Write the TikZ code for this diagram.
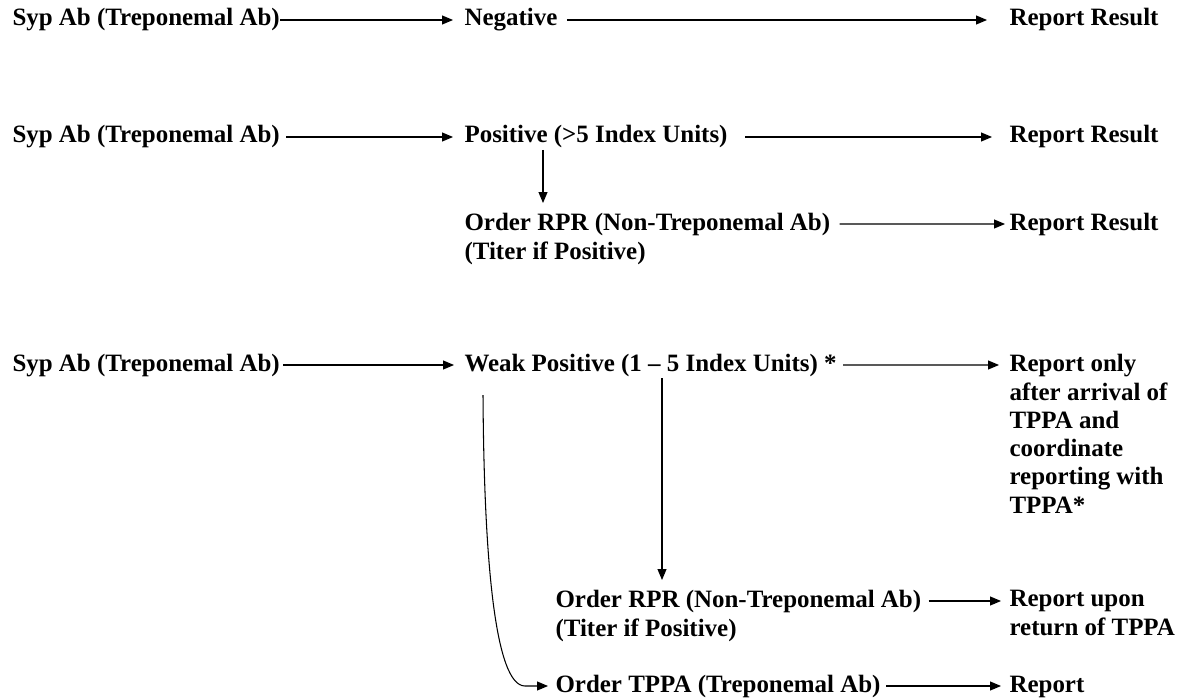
\documentclass[tikz,border=0pt]{standalone}
\usepackage{fontspec}
\setmainfont{Liberation Serif}
\usepackage{tikz}
\usetikzlibrary{arrows.meta}
\usetikzlibrary{positioning}

\begin{document}
\begin{tikzpicture}[
    x = 0.02cm, y = -0.02cm,
    >={Triangle[length=0.22cm,width=0.18cm]},
    line width = 0.6pt]
    \useasboundingbox (0,0) rectangle (1185,699);
    \tikzstyle{every node}=[inner sep=0,font=\bfseries\fontsize{14.2pt}{16.1pt}\selectfont]
    \tikzstyle{block}=[anchor=north west,align=left]
    % negative
    \node[anchor=base west] (syp1) at (12,26) {Syp Ab (Treponemal Ab)} ;
    \node[anchor=base west] (neg) at (464,26) {Negative} ;
    \node[anchor=base west] (res1) at (1009,26) {Report Result} ;
    % positive
    \node[anchor=base west] (syp2) at (12,143) {Syp Ab (Treponemal Ab)} ;
    \node[anchor=base west] (pos) at (464,143) {Positive (>5 Index Units)} ;
    \node[anchor=base west] (res2) at (1009,143) {Report Result} ;
    \node[block] (rpr1) at (464,213) {Order RPR (Non-Treponemal Ab)\\(Titer if Positive)} ;
    \node[anchor=base west] (res3) at (1009,230) {Report Result} ;
    % weak positive
    \node[anchor=base west] (syp3) at (12,371) {Syp Ab (Treponemal Ab)} ;
    \node[anchor=base west] (weak) at (464,371) {Weak Positive (1 -- 5 Index Units) *} ;
    \node[block] (res4) at (1009,354) {Report only\\after arrival of\\TPPA and\\coordinate\\reporting with\\TPPA*} ;
    \node[block] (rpr2) at (555,590) {Order RPR (Non-Treponemal Ab)\\(Titer if Positive)} ;
    \node[block] (res5) at (1009,590) {Report upon\\return of TPPA} ;
    \node[anchor=base west] (tppa) at (555,692) {Order TPPA (Treponemal Ab)} ;
    \node[anchor=base west] (res6) at (1009,692) {Report} ;
    \coordinate (posdown) at ([shift={(79,7)}]pos.base west) ;
    \coordinate (weakdown) at ([shift={(198,7)}]weak.base west) ;
    \coordinate (weakbend) at ([shift={(19,24)}]weak.base west) ;
    \coordinate (tppacorner) at ([shift={(-30,-6)}]tppa.base west) ;
    \path[->]
    ([yshift=0.12cm]syp1.base east) edge [shorten >=0.22cm] ([yshift=0.12cm]neg.base west)
    ([yshift=0.12cm]neg.base east) edge [shorten <=0.18cm,shorten >=0.44cm] ([yshift=0.12cm]res1.base west)
    ([yshift=0.12cm]syp2.base east) edge [shorten <=0.12cm,shorten >=0.22cm] ([yshift=0.12cm]pos.base west)
    ([yshift=0.12cm]pos.base east) edge [shorten <=0.34cm,shorten >=0.34cm] ([yshift=0.12cm]res2.base west)
    (posdown) edge [shorten >=0.2cm] (posdown |- rpr1.north)
    ([yshift=-0.22cm]rpr1.north east) edge [shorten <=0.18cm,shorten >=0.08cm] ([yshift=0.12cm]res3.base west)
    ([yshift=0.12cm]syp3.base east) edge [shorten <=0.06cm,shorten >=0.2cm] ([yshift=0.12cm]weak.base west)
    ([yshift=0.12cm]weak.base east) edge [shorten <=0.12cm,shorten >=0.2cm] ([yshift=-0.22cm]res4.north west)
    (weakdown) edge [shorten >=0.2cm] (weakdown |- rpr2.north)
    ([yshift=-0.22cm]rpr2.north east) edge [shorten <=0.14cm,shorten >=0.16cm] ([yshift=-0.22cm]res5.north west)
    ([yshift=0.12cm]tppa.base east) edge [shorten <=0.1cm,shorten >=0.16cm] ([yshift=0.12cm]res6.base west) ;
    \draw[->,shorten >=0.14cm]
    (weakbend) .. controls +(1,165) and +(-30,0) .. (tppacorner) -- ([yshift=0.12cm]tppa.base west) ;
\end{tikzpicture}
\end{document}
